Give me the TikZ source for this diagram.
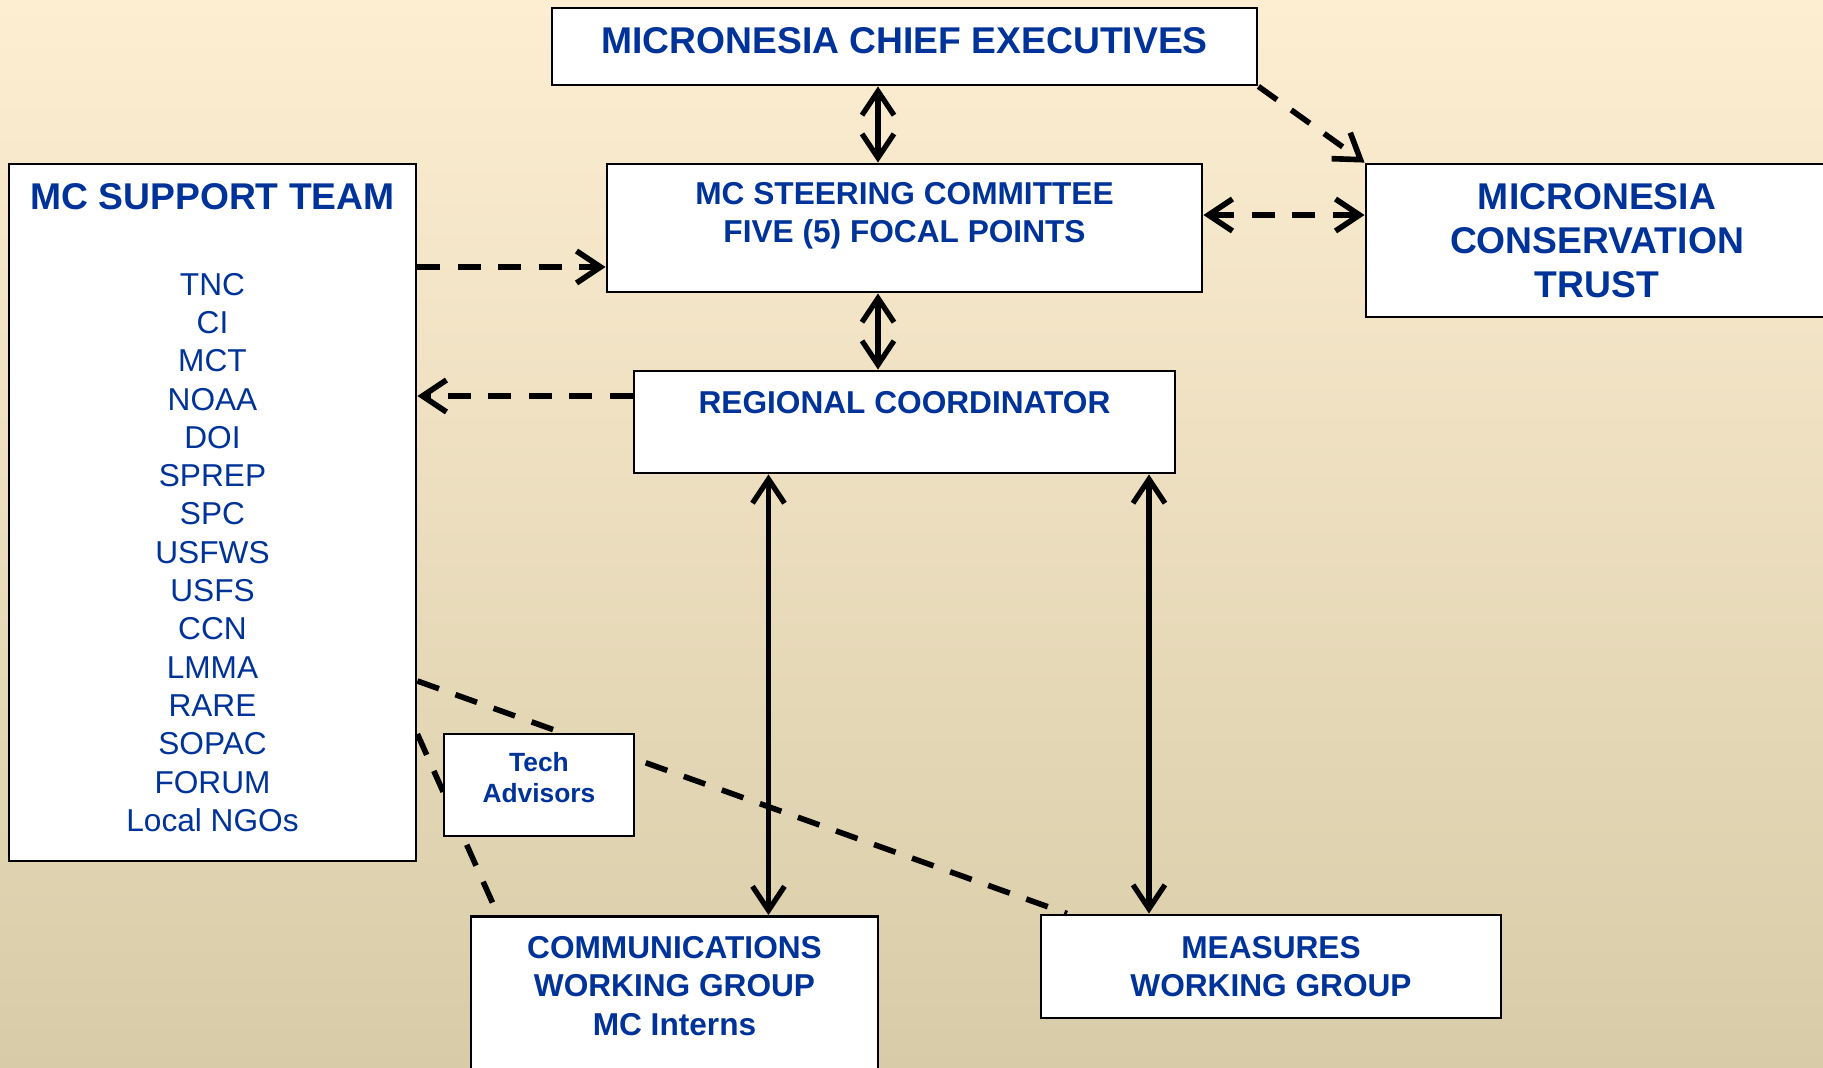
\documentclass[tikz,border=0pt]{standalone}
\usepackage{fontspec}
\setmainfont{Liberation Sans}
\usetikzlibrary{positioning,arrows.meta}

\definecolor{mcblue}{RGB}{0,51,153}
\definecolor{bgtop}{RGB}{253,238,210}
\definecolor{bgmid}{RGB}{241,232,207}
\definecolor{bgbot}{RGB}{216,204,168}

\tikzset{
  box/.style={rectangle, draw=black, line width=0.8pt, fill=white, inner sep=0pt},
  head/.style={text=mcblue, font=\bfseries\fontsize{10.6}{12.6}\selectfont, align=center},
  subhead/.style={text=mcblue, font=\bfseries\fontsize{9}{10.9}\selectfont, align=center},
  small/.style={text=mcblue, font=\bfseries\fontsize{7.5}{8.9}\selectfont, align=center},
  members/.style={text=mcblue, font=\fontsize{9}{10.9}\selectfont, align=center},
  link/.style={line width=1.5pt},
  dashlink/.style={line width=1.6pt, dash pattern=on 6.5pt off 5pt},
}

\begin{document}
\begin{tikzpicture}[>={Straight Barb[length=2.4mm,width=3.2mm]}]

% Background
\useasboundingbox (0,0) rectangle (18.23,-10.67);
\shade[top color=bgtop, middle color=bgmid, bottom color=bgbot] (0,0) rectangle (18.23,-10.67);

% Top level
\node[box, head, text depth=0.12cm, minimum width=7.05cm, minimum height=0.77cm] (chief) at (9.045,-0.465) {MICRONESIA CHIEF EXECUTIVES};

% Steering committee
\node[box, minimum width=5.95cm, minimum height=1.28cm] (steer) at (9.045,-2.28) {};
\node[subhead, below=0.07cm of steer.north] (steertxt) {MC STEERING COMMITTEE\\FIVE (5) FOCAL POINTS};

% Trust
\node[box, head, minimum width=4.62cm, minimum height=1.53cm] (mct) at (15.97,-2.405) {MICRONESIA\\CONSERVATION\\TRUST};

% Support team
\node[box, minimum width=4.07cm, minimum height=6.97cm] (supp) at (2.125,-5.125) {};
\node[head, below=0.08cm of supp.north] (supptitle) {MC SUPPORT TEAM};
\node[members, below=0.98cm of supp.north] (supplist) {TNC\\CI\\MCT\\NOAA\\DOI\\SPREP\\SPC\\USFWS\\USFS\\CCN\\LMMA\\RARE\\SOPAC\\FORUM\\Local NGOs};

% Regional coordinator
\node[box, minimum width=5.41cm, minimum height=1.02cm] (reg) at (9.045,-4.22) {};
\node[subhead, below=0.09cm of reg.north] (regtxt) {REGIONAL COORDINATOR};

% Working groups
\node[box, anchor=north, minimum width=4.07cm, minimum height=1.9cm] (comms) at (6.745,-9.15) {};
\node[subhead, below=0.09cm of comms.north] (commstxt) {COMMUNICATIONS\\WORKING GROUP\\MC Interns};
\node[box, subhead, minimum width=4.60cm, minimum height=1.03cm] (meas) at (12.71,-9.665) {MEASURES\\WORKING GROUP};

% Connections
\draw[link, <->] ([xshift=-0.265cm]chief.south) -- ([xshift=-0.265cm]steer.north);
\draw[link, <->] ([xshift=-0.265cm]steer.south) -- ([xshift=-0.265cm]reg.north);
\draw[link, <->] (reg.south -| 7.685,0) -- (comms.north -| 7.685,0);
\draw[link, <->] (reg.south -| 11.49,0) -- (meas.north -| 11.49,0);
\draw[dashlink, <->] (steer.east |- 0,-2.15) -- (mct.west |- 0,-2.15);
\draw[dashlink, ->] (chief.south east) -- (mct.north west);
\draw[dashlink, ->] (supp.east |- 0,-2.67) -- (steer.west |- 0,-2.67);
\draw[dashlink, ->] (reg.west |- 0,-3.96) -- (supp.east |- 0,-3.96);
\draw[dashlink] (supp.east |- 0,-6.81) -- (meas.north -| 10.67,0);
\draw[dashlink] (supp.east |- 0,-7.34) -- (comms.north -| 4.98,0);

% Tech advisors (over the dashed lines)
\node[box, minimum width=1.90cm, minimum height=1.02cm] (tech) at (5.39,-7.85) {};
\node[small, below=0.07cm of tech.north] (techtxt) {Tech\\Advisors};

\end{tikzpicture}
\end{document}
